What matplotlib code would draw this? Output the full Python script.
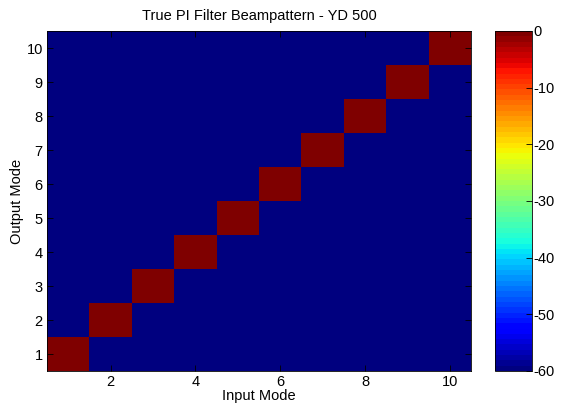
import numpy as np
import matplotlib
matplotlib.use("Agg")
import matplotlib.pyplot as plt

plt.rcParams['font.family'] = ['Liberation Sans', 'DejaVu Sans']
plt.rcParams['font.size'] = 10.5
plt.rcParams['axes.unicode_minus'] = False

# beampattern in dB, rows = output mode, cols = input mode
input_modes = [1, 2, 3, 4, 5, 6, 7, 8, 9, 10]
output_modes = [1, 2, 3, 4, 5, 6, 7, 8, 9, 10]
diag_db = [0, 0, 0, 0, 0, 0, 0, 0, 0, 0]
leak_db = -60

beam = np.full((len(output_modes), len(input_modes)), leak_db, dtype=float)
np.fill_diagonal(beam, diag_db)

cmap = plt.get_cmap('jet', 64)

fig = plt.figure(figsize=(5.61, 4.03), dpi=100)
ax = fig.add_axes([47 / 561, 1 - 371 / 403, (471 - 47) / 561, (371 - 31) / 403])
cax = fig.add_axes([495 / 561, 1 - 371 / 403, (532 - 495) / 561, (371 - 31) / 403])

im = ax.imshow(beam, cmap=cmap, vmin=-60, vmax=0, origin='lower', aspect='auto',
               extent=[0.5, 10.5, 0.5, 10.5], interpolation='nearest')

ax.set_xticks([2, 4, 6, 8, 10])
ax.set_yticks(output_modes)
ax.tick_params(direction='in', top=True, right=True, length=4, width=0.6, pad=3)
ax.set_xlabel('Input Mode', labelpad=0)
ax.set_ylabel('Output Mode', labelpad=2)
ax.set_title('True PI Filter Beampattern - YD 500', fontsize=10.5, pad=8)
for s in ax.spines.values():
    s.set_linewidth(0.6)

cb = fig.colorbar(im, cax=cax)
cb.set_ticks([0, -10, -20, -30, -40, -50, -60])
cax.tick_params(direction='in', length=4, width=0.6, pad=1)
cb.outline.set_linewidth(0.6)

fig.savefig('out.png', dpi=100)
